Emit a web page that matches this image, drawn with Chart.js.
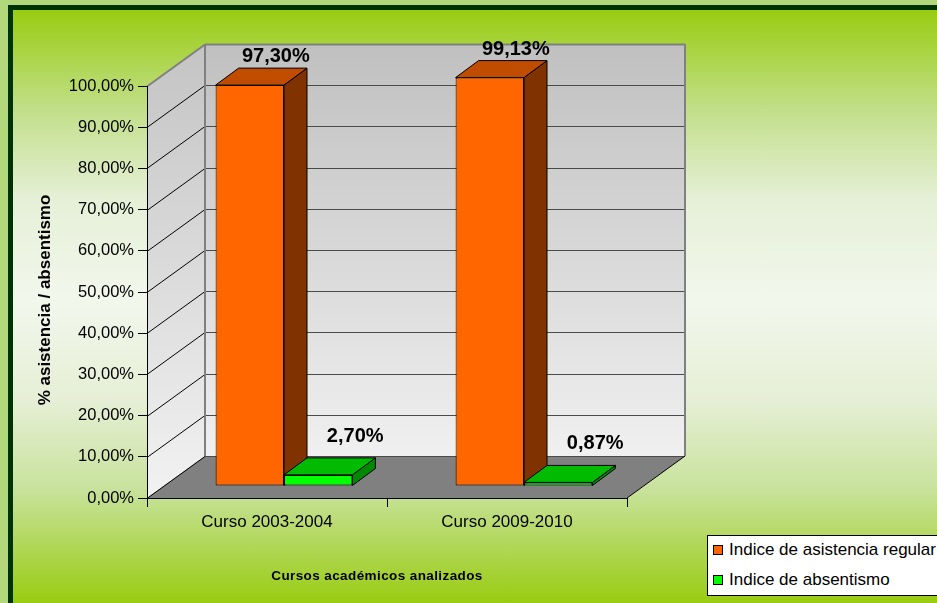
<!DOCTYPE html>
<html lang="es">
<head>
<meta charset="utf-8">
<title>Asistencia y absentismo</title>
<script src="https://cdn.jsdelivr.net/npm/chart.js@4.4.1/dist/chart.umd.min.js"></script>
<style>
    html, body { margin: 0; padding: 0; }
    body {
        width: 937px; height: 603px; overflow: hidden; position: relative;
        background: #b3d87b;
        font-family: "Liberation Sans", Arial, sans-serif;
    }
    #frame {
        position: absolute; left: 8px; top: 5px; width: 940px; height: 610px;
        border-left: 5px solid #003300; border-top: 5px solid #003300;
        background: linear-gradient(to bottom, #99cc11 0px, #c2df8a 100px, #e6f0d8 190px, #f2f7ec 290px, #e6efd6 390px, #c8e29c 480px, #99cc11 593px);
    }
    #chart { position: absolute; left: 0; top: 0; }
    #legend {
        position: absolute; left: 707px; top: 535px; width: 240px; height: 59px;
        background: #fff; border: 1px solid #000;
    }
    #legend .sw { position: absolute; left: 5px; width: 8px; height: 8px; border: 1px solid #000; }
    #legend .tx { position: absolute; left: 21px; font-size: 17px; line-height: 20px; white-space: nowrap; color: #000; }
</style>
</head>
<body>
<div id="frame"></div>
<canvas id="chart" width="937" height="603"></canvas>
<div id="legend"></div>
<script>
const categories = ['Curso 2003-2004', 'Curso 2009-2010'];
const seriesNames = ['Indice de asistencia regular', 'Indice de absentismo'];
const asistencia = [0.9730, 0.9913];
const absentismo = [0.0270, 0.0087];
const yMin = 0, yMax = 1, yStep = 0.1;

// colores: frente, tapa, lateral
const frontColors = ['#ff6600', '#00ff00'];
const topColors = ['#c04c00', '#00bb00'];
const sideColors = ['#803300', '#008800'];

// profundidad del "3D"
const DEPTH_X = 58, DEPTH_Y = -42;   // pared del fondo
const FRONT_X = 17, FRONT_Y = -12;   // cara frontal de las barras
const BAR_X = 23, BAR_Y = -17;       // grosor de cada barra
const LABEL_DX = [3, 14], LABEL_UP = [6, 16];

const FONT = '"Liberation Sans", Arial, sans-serif';

function pct(v) {
    return (v * 100).toFixed(2).replace('.', ',') + '%';
}

function poly(ctx, pts, fill, stroke, lw) {
    ctx.beginPath();
    ctx.moveTo(pts[0][0], pts[0][1]);
    for (let i = 1; i < pts.length; i++) ctx.lineTo(pts[i][0], pts[i][1]);
    ctx.closePath();
    if (fill) { ctx.fillStyle = fill; ctx.fill(); }
    if (stroke) { ctx.strokeStyle = stroke; ctx.lineWidth = lw || 1; ctx.stroke(); }
}

const walls3d = {
    id: 'walls3d',
    beforeDraw(chart) {
        const { ctx, chartArea: a, scales: { y } } = chart;
        const bl = a.left + DEPTH_X, br = a.right + DEPTH_X;
        const bt = a.top + DEPTH_Y, bb = a.bottom + DEPTH_Y;
        ctx.save();

        // pared del fondo
        let g = ctx.createLinearGradient(0, bt, 0, bb);
        g.addColorStop(0, '#c0c0c0');
        g.addColorStop(1, '#f0f0f0');
        ctx.fillStyle = g;
        ctx.fillRect(bl, bt, br - bl, bb - bt);

        // pared lateral
        g = ctx.createLinearGradient(0, bt, 0, a.bottom);
        g.addColorStop(0, '#c4c4c4');
        g.addColorStop(1, '#f2f2f2');
        poly(ctx, [[a.left, a.top], [bl, bt], [bl, bb], [a.left, a.bottom]], g);

        // suelo
        poly(ctx, [[a.left, a.bottom], [bl, bb], [br, bb], [a.right, a.bottom]], '#808080');

        // lineas de division
        y.ticks.forEach((t, i) => {
            const py = Math.round(y.getPixelForValue(t.value)) + 0.5;
            const last = i === y.ticks.length - 1;
            ctx.strokeStyle = last ? '#808080' : '#4a4a4a';
            ctx.lineWidth = last ? 2 : 1;
            ctx.beginPath();
            ctx.moveTo(bl, py + DEPTH_Y);
            ctx.lineTo(br, py + DEPTH_Y);
            ctx.stroke();
            ctx.strokeStyle = last ? '#808080' : '#000';
            ctx.beginPath();
            ctx.moveTo(a.left, py);
            ctx.lineTo(bl, py + DEPTH_Y);
            ctx.stroke();
        });

        // bordes de la pared
        ctx.strokeStyle = '#808080';
        ctx.lineWidth = 2;
        ctx.beginPath();
        ctx.moveTo(bl, bb);
        ctx.lineTo(bl, bt);
        ctx.moveTo(br, bt);
        ctx.lineTo(br, bb);
        ctx.stroke();

        // borde derecho del suelo
        ctx.strokeStyle = '#000';
        ctx.lineWidth = 1;
        ctx.beginPath();
        ctx.moveTo(a.right, a.bottom);
        ctx.lineTo(br, bb);
        ctx.stroke();
        ctx.restore();
    },
    beforeDatasetsDraw(chart) {
        const ctx = chart.ctx;
        ctx.save();
        ctx.translate(FRONT_X, FRONT_Y);
        ctx.lineJoin = 'round';
        chart.data.datasets.forEach((ds, di) => {
            chart.getDatasetMeta(di).data.forEach(bar => {
                const l = bar.x - bar.width / 2, r = bar.x + bar.width / 2;
                // lateral
                poly(ctx, [[r, bar.y], [r + BAR_X, bar.y + BAR_Y], [r + BAR_X, bar.base + BAR_Y], [r, bar.base]], sideColors[di], '#000', 1);
                // tapa
                poly(ctx, [[l, bar.y], [l + BAR_X, bar.y + BAR_Y], [r + BAR_X, bar.y + BAR_Y], [r, bar.y]], topColors[di], '#000', 1);
            });
        });
    },
    afterDatasetsDraw(chart) {
        const ctx = chart.ctx;
        ctx.restore();
        ctx.save();
        ctx.fillStyle = '#000';
        ctx.font = 'bold 20px ' + FONT;
        ctx.textAlign = 'center';
        ctx.textBaseline = 'alphabetic';
        chart.data.datasets.forEach((ds, di) => {
            chart.getDatasetMeta(di).data.forEach((bar, i) => {
                const x = bar.x + FRONT_X + BAR_X + LABEL_DX[di];
                const y = bar.y + FRONT_Y + BAR_Y - LABEL_UP[di];
                ctx.fillText(pct(ds.data[i]), x, y);
            });
        });
        ctx.restore();
    },
    afterDraw(chart) {
        const ctx = chart.ctx;
        ctx.save();
        ctx.fillStyle = '#000';
        ctx.textAlign = 'center';
        ctx.textBaseline = 'middle';
        ctx.font = 'bold 17px ' + FONT;
        ctx.translate(45, 300);
        ctx.rotate(-Math.PI / 2);
        ctx.fillText('% asistencia / absentismo', 0, 0);
        ctx.restore();

        ctx.save();
        ctx.fillStyle = '#000';
        ctx.textAlign = 'center';
        ctx.textBaseline = 'middle';
        ctx.font = 'bold 13.5px ' + FONT;
        ctx.letterSpacing = '0.4px';
        ctx.fillText('Cursos académicos analizados', 377, 576);
        ctx.restore();
    }
};

const chart = new Chart(document.getElementById('chart'), {
    type: 'bar',
    data: {
        labels: categories,
        datasets: [
            {
                label: seriesNames[0],
                data: asistencia,
                backgroundColor: frontColors[0],
                borderColor: '#000',
                borderWidth: 1,
                borderSkipped: false,
                clip: false
            },
            {
                label: seriesNames[1],
                data: absentismo,
                backgroundColor: frontColors[1],
                borderColor: '#000',
                borderWidth: 1,
                borderSkipped: false,
                clip: false
            }
        ]
    },
    options: {
        responsive: false,
        animation: false,
        devicePixelRatio: 1,
        datasets: { bar: { barPercentage: 1, categoryPercentage: 0.57 } },
        layout: { padding: { left: 0, right: 310, top: 86, bottom: 0 } },
        plugins: {
            legend: { display: false },
            tooltip: { enabled: false }
        },
        scales: {
            x: {
                offset: true,
                afterFit: s => { s.height = 105; },
                grid: { drawOnChartArea: false, offset: true, tickLength: 9, color: '#000' },
                border: { color: '#000' },
                ticks: { color: '#000', font: { family: FONT, size: 17 }, padding: 5 }
            },
            y: {
                min: yMin,
                max: yMax,
                afterFit: s => { s.width = 147; },
                grid: { drawOnChartArea: false, tickLength: 9, color: '#000' },
                border: { color: '#000' },
                ticks: {
                    stepSize: yStep,
                    color: '#000',
                    padding: 4,
                    font: { family: FONT, size: 16.5 },
                    callback: v => pct(v)
                }
            }
        }
    },
    plugins: [walls3d]
});

// leyenda
const legend = document.getElementById('legend');
chart.data.datasets.forEach((ds, i) => {
    const top = 4 + i * 30;
    legend.insertAdjacentHTML('beforeend',
        `<div class="sw" style="top:${top + 5}px;background:${ds.backgroundColor}"></div>` +
        `<div class="tx" style="top:${top}px">${ds.label}</div>`);
});
</script>
</body>
</html>
